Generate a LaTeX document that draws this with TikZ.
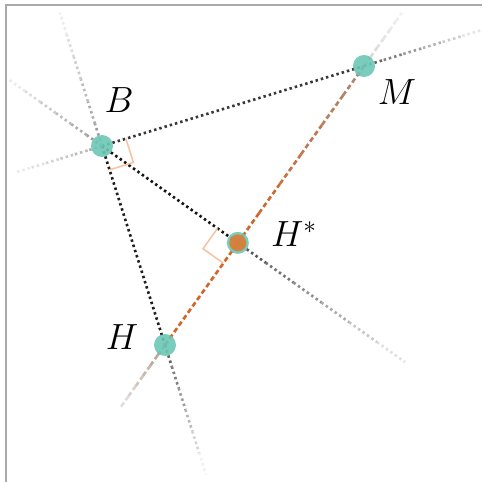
\documentclass[tikz,border=0pt]{standalone}
\usepackage{tikz}
\usetikzlibrary{calc}
\definecolor{ptteal}{HTML}{6CC6B5}
\definecolor{ptorange}{HTML}{D2652A}
\definecolor{ptfoot}{HTML}{E4762C}
\definecolor{ptbrown}{HTML}{A88E7A}
\definecolor{rtmark}{HTML}{F6C4A2}
\definecolor{framegray}{HTML}{AAAAAA}

\begin{document}
\begin{tikzpicture}[
  x=0.02cm, y=-0.02cm,
  dotline/.style={line width=1.5pt, dash pattern=on 1.4pt off 1.7pt},
  dashline/.style={line width=1.5pt, dash pattern=on 2.8pt off 1.7pt},
  rtangle/.style={rtmark, line width=0.9pt},
  point/.style={circle, fill=ptteal, fill opacity=0.9, minimum size=0.44cm, inner sep=0pt},
  footpt/.style={circle, fill=ptfoot, fill opacity=0.85, minimum size=0.34cm, inner sep=0pt},
  lbl/.style={font=\huge},
]
  \useasboundingbox (0,0) rectangle (482,482);

  % Frame
  \draw[framegray, line width=1.1pt] (6,482) -- (6,5) -- (482,5);

  % Points
  \coordinate (B) at (102,146);
  \coordinate (M) at (364,66);
  \coordinate (H) at (165,345);
  \coordinate (Hs) at ($(M)!(B)!(H)$);

  % Line ends
  \coordinate (eBM) at ($(B)!-0.33!(M)$);
  \coordinate (eMB) at ($(M)!-0.45!(B)$);
  \coordinate (eBH) at ($(B)!-0.67!(H)$);
  \coordinate (eHB) at ($(H)!-0.65!(B)$);
  \coordinate (eBHs) at ($(B)!-0.68!(Hs)$);
  \coordinate (eHsB) at ($(Hs)!-1.23!(B)$);
  \coordinate (eMH) at ($(M)!-0.19!(H)$);
  \coordinate (eHM) at ($(H)!-0.22!(M)$);

  % Core segments
  \draw[dotline, black!78] (B) -- (M);
  \draw[dotline, black!88] (B) -- (H);
  \draw[dotline, black!92] (B) -- (Hs);
  \draw[dashline, ptorange] (H) -- (Hs);

  % Fading parts
  \foreach \s/\e/\ca/\cb/\a/\b/\st in {Hs/M/ptorange/ptbrown/100/20/dashline, M/eMH/black/white/16/6/dashline,
      H/eHM/ptbrown/white/85/30/dashline, M/eMB/black/white/60/10/dotline,
      B/eBM/black/white/32/8/dotline, H/eHB/black/white/62/6/dotline,
      B/eBH/black/white/38/8/dotline, Hs/eHsB/black/white/66/12/dotline,
      B/eBHs/black/white/38/8/dotline} {
    \foreach \i in {0,...,5} {
      \pgfmathtruncatemacro{\pct}{\a+(\b-\a)*\i/5}
      \draw[\st, draw=\ca!\pct!\cb] ($(\s)!\i/6!(\e)$) -- ($(\s)!{(\i+1)/6}!(\e)$);
    }
  }

  % Right angles
  \coordinate (b1) at ($(B)!0.5cm!(M)$);
  \coordinate (b2) at ($(B)!0.5cm!(H)$);
  \draw[rtangle] (b1) -- ($(b1)+(b2)-(B)$) -- (b2);
  \coordinate (h1) at ($(Hs)!0.5cm!(B)$);
  \coordinate (h2) at ($(Hs)!0.5cm!(H)$);
  \draw[rtangle] (h1) -- ($(h1)+(h2)-(Hs)$) -- (h2);

  % Dots
  \node[point] (pB) at (B) {};
  \node[point] (pM) at (M) {};
  \node[point] (pH) at (H) {};
  \node[point] (pHs) at (Hs) {};
  \node[footpt] (pHf) at (Hs) {};

  % Labels
  \node[lbl] (lB) at (119,100) {$B$};
  \node[lbl] (lM) at (397,92) {$M$};
  \node[lbl] (lHs) at (294,234) {$H^*$};
  \node[lbl] (lH) at (122,337) {$H$};
\end{tikzpicture}
\end{document}
